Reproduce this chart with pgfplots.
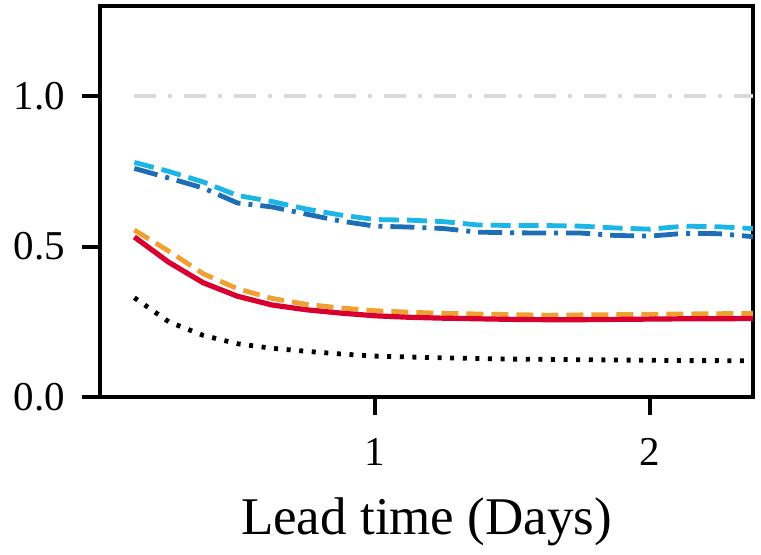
\documentclass[border=0pt]{standalone}
\usepackage{pgfplots}
\pgfplotsset{compat=1.18}
\usepackage{fontspec}
\setmainfont{Liberation Serif}
\definecolor{lblue}{HTML}{1BB5E6}
\definecolor{dblue}{HTML}{1F6DB5}
\definecolor{orng}{HTML}{F0A030}
\definecolor{rred}{HTML}{D8002E}
\definecolor{lgray}{HTML}{DADADA}
\begin{document}
\begin{tikzpicture}
\begin{axis}[
  name=ax,
  scale only axis,
  width=326.5pt, height=195.5pt,
  xmin=0, xmax=2.375, ymin=0, ymax=1.3,
  axis line style={line width=2pt},
  every tick/.style={line width=2pt, black},
  tick align=outside,
  major tick length=9pt,
  xtick={1,2}, ytick={0,0.5,1.0},
  xtick pos=bottom, ytick pos=left,
  yticklabel style={/pgf/number format/fixed, /pgf/number format/fixed zerofill, /pgf/number format/precision=1, xshift=-5pt},
  /pgf/number format/assume math mode=true,
  ticklabel style={font=\fontsize{20.5}{22}\selectfont},
  xticklabel style={yshift=-8pt},
  xlabel={Lead time (Days)},
  xlabel style={font=\fontsize{26.5}{28}\selectfont, yshift=-9.5pt},
  clip=false,
]
\addplot[lgray, line width=2.2pt, dash pattern=on 11pt off 6pt on 2pt off 6pt] coordinates {(0.125,1.0) (2.375,1.0)};
\addplot[lblue, line width=2.4pt, dash pattern=on 10pt off 4pt] coordinates {
(0.125,0.78) (0.25,0.75) (0.375,0.715) (0.5,0.67) (0.625,0.65) (0.75,0.625) (0.875,0.605) (1.0,0.59) (1.125,0.588) (1.25,0.583) (1.375,0.572) (1.5,0.570) (1.625,0.570) (1.75,0.568) (1.875,0.562) (2.0,0.558) (2.125,0.568) (2.25,0.566) (2.375,0.560)};
\addplot[dblue, line width=2.4pt, dash pattern=on 12pt off 4pt on 2pt off 4pt] coordinates {
(0.125,0.76) (0.25,0.728) (0.375,0.695) (0.5,0.645) (0.625,0.632) (0.75,0.608) (0.875,0.585) (1.0,0.568) (1.125,0.565) (1.25,0.560) (1.375,0.548) (1.5,0.546) (1.625,0.545) (1.75,0.545) (1.875,0.537) (2.0,0.535) (2.125,0.544) (2.25,0.543) (2.375,0.533)};
\addplot[orng, line width=2.4pt, dash pattern=on 8.5pt off 4pt] coordinates {
(0.125,0.555) (0.25,0.485) (0.375,0.41) (0.5,0.36) (0.625,0.328) (0.75,0.308) (0.875,0.296) (1.0,0.287) (1.125,0.282) (1.25,0.278) (1.375,0.276) (1.5,0.274) (1.625,0.272) (1.75,0.273) (1.875,0.274) (2.0,0.275) (2.125,0.276) (2.25,0.277) (2.375,0.278)};
\addplot[rred, line width=2.6pt] coordinates {
(0.125,0.532) (0.25,0.448) (0.375,0.38) (0.5,0.335) (0.625,0.306) (0.75,0.29) (0.875,0.279) (1.0,0.270) (1.125,0.265) (1.25,0.262) (1.375,0.260) (1.5,0.258) (1.625,0.257) (1.75,0.257) (1.875,0.258) (2.0,0.259) (2.125,0.260) (2.25,0.260) (2.375,0.261)};
\addplot[black, line width=2.4pt, dash pattern=on 2pt off 4.3pt] coordinates {
(0.125,0.33) (0.25,0.25) (0.375,0.205) (0.5,0.177) (0.625,0.162) (0.75,0.152) (0.875,0.143) (1.0,0.136) (1.125,0.133) (1.25,0.130) (1.375,0.128) (1.5,0.126) (1.625,0.125) (1.75,0.124) (1.875,0.123) (2.0,0.122) (2.125,0.121) (2.25,0.121) (2.375,0.120)};
\end{axis}
\pgfresetboundingbox
\path ([shift={(-50pt,-79pt)}]ax.south west) rectangle ([shift={(4pt,3pt)}]ax.north east);
\end{tikzpicture}
\end{document}
